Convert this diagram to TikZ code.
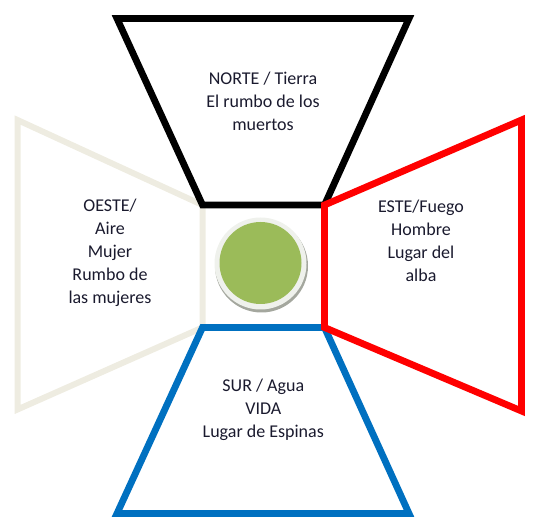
\documentclass[tikz,border=0pt]{standalone}
\usepackage{fontspec}
\setmainfont{Carlito}
\definecolor{beigec}{HTML}{EEECE1}
\definecolor{bluec}{HTML}{0070C0}
\definecolor{redc}{HTML}{FF0000}
\definecolor{greenc}{HTML}{9BBB59}
\definecolor{rimc}{HTML}{EFF1EC}
\definecolor{shadowc}{HTML}{A4A79E}
\definecolor{textc}{HTML}{1A1A2E}
\tikzset{
  trap/.style={line width=6.8pt, line join=miter, miter limit=10},
  lbl/.style={align=center, font=\fontsize{18}{23}\selectfont, text=textc, inner sep=0pt, anchor=base}
}
\begin{document}
\begin{tikzpicture}[x=1pt,y=-1pt]
\useasboundingbox (0,0) rectangle (539,529);
% inner square corners
\coordinate (itl) at (202.5,205);
\coordinate (itr) at (324.5,205);
\coordinate (ibr) at (324.5,327.5);
\coordinate (ibl) at (202.5,327.5);
% west
\coordinate (wt) at (17.5,120);
\coordinate (wb) at (17.5,409.5);
\draw[trap, draw=beigec, line width=6pt] (itl) -- (wt) -- (wb) -- (ibl) -- cycle;
% north
\coordinate (nl) at (117,18.5);
\coordinate (nr) at (409,18.5);
\draw[trap, draw=black] (itl) -- (nl) -- (nr) -- (itr) -- cycle;
% south
\coordinate (sl) at (117,513.5);
\coordinate (sr) at (409,513.5);
\draw[trap, draw=bluec] (ibl) -- (sl) -- (sr) -- (ibr) -- cycle;
% east
\coordinate (et) at (521.5,120);
\coordinate (eb) at (521.5,411);
\draw[trap, draw=redc] (itr) -- (et) -- (eb) -- (ibr) -- cycle;
% center circle
\fill[shadowc] (261.5,266) circle (46.5);
\fill[rimc] (260.5,263.5) circle (46);
\node[circle, fill=greenc, minimum size=82pt, inner sep=0pt] (c) at (260.5,263) {};
% labels (anchor = baseline of last line)
\node[lbl] (n) at (263,131) {NORTE / Tierra\\El rumbo de los\\muertos};
\node[lbl] (w) at (110,304) {OESTE/\\Aire\\Mujer\\Rumbo de\\las mujeres};
\node[lbl] (e) at (421,281.7) {ESTE/Fuego\\Hombre\\Lugar del\\alba};
\node[lbl] (s) at (263.3,437.7) {SUR / Agua\\VIDA\\Lugar de Espinas};
\end{tikzpicture}
\end{document}
